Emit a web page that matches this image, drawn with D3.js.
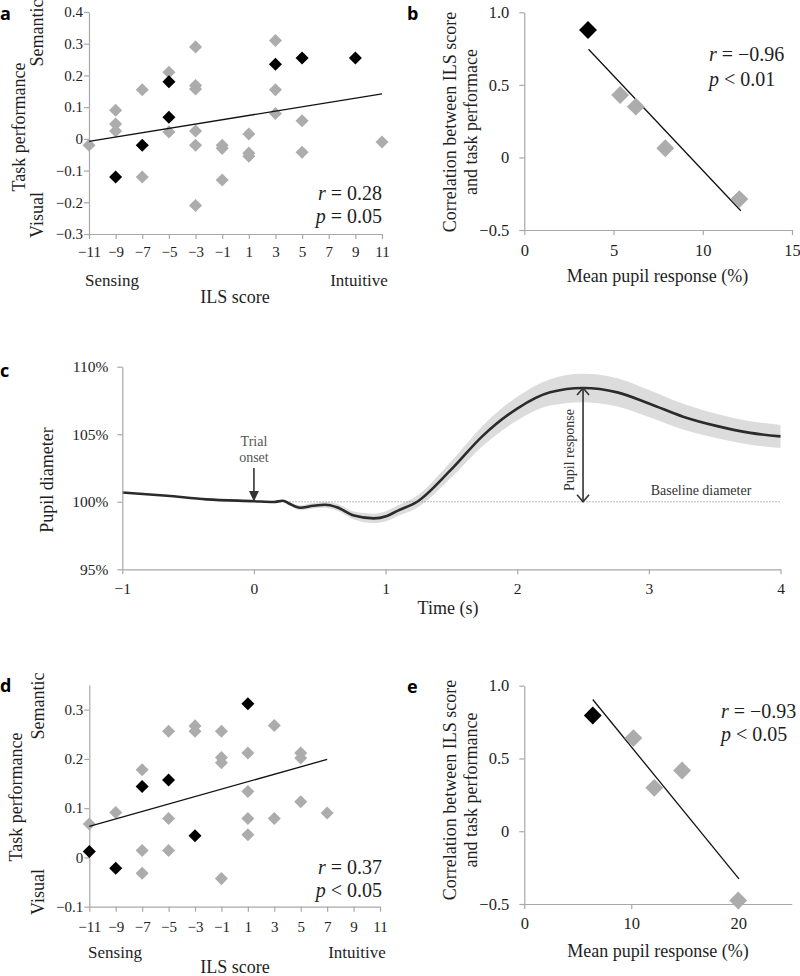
<!DOCTYPE html>
<html><head><meta charset="utf-8">
<script src="https://cdn.jsdelivr.net/npm/d3@7"></script>
<style>body{margin:0;background:#fff}svg{display:block}</style>
</head><body>
<svg id="chart" width="800" height="976"></svg>
<script>
// ---------- DATA ----------
// Panel a (ILS score vs task performance)
const aGrayX = [-11,-9,-9,-9,-7,-7,-5,-5,-3,-3,-3,-3,-3,-3,-1,-1,-1,1,1,1,3,3,3,5,5,11];
const aGrayY = [-0.02,0.09,0.047,0.025,0.155,-0.12,0.21,0.022,0.29,0.168,0.157,0.025,-0.02,-0.21,-0.02,-0.03,-0.13,0.015,-0.045,-0.055,0.31,0.155,0.08,0.057,-0.042,-0.01];
const aBlackX = [-9,-7,-5,-5,3,5,9];
const aBlackY = [-0.12,-0.02,0.18,0.068,0.235,0.255,0.255];
const aFitX = [-11,11];
const aFitY = [-0.008,0.142];
const ilsTicks = [-11,-9,-7,-5,-3,-1,1,3,5,7,9,11];
const aYTicks = [-0.3,-0.2,-0.1,0,0.1,0.2,0.3,0.4];

// Panel b (mean pupil response vs correlation)
const bGrayX = [5.37,6.25,7.9,12.05];
const bGrayY = [0.43,0.35,0.063,-0.287];
const bBlackX = [3.57];
const bBlackY = [0.878];
const bFitX = [3.6,12.13];
const bFitY = [0.745,-0.367];
const bXTicks = [0,5,10,15];
const corrTicks = [-0.5,0,0.5,1.0];

// Panel c (pupil diameter time course)
const cTime = [-1,-0.66,-0.36,0,0.15,0.22,0.27,0.35,0.45,0.54,0.63,0.76,0.91,1.01,1.09,1.24,1.49,1.74,2.0,2.25,2.5,2.76,3.01,3.26,3.52,3.77,4.0];
const cMean = [100.69,100.44,100.18,100.04,99.98,100.08,99.85,99.56,99.70,99.78,99.60,98.98,98.77,98.95,99.33,100.0,102.3,104.9,106.9,108.1,108.42,108.1,107.24,106.3,105.6,105.1,104.84];
const cErr  = [0.02,0.02,0.02,0.03,0.04,0.08,0.12,0.18,0.2,0.22,0.25,0.3,0.35,0.38,0.4,0.45,0.6,0.75,0.88,0.98,1.05,1.05,1.0,0.95,0.9,0.87,0.85];
const cXTicks = [-1,0,1,2,3,4];
const cYTicks = [95,100,105,110];
const cOnset = 0;
const cPeakT = 2.5;
const cPeakV = 108.42;
const cBaseline = 100;

// Panel d
const dGrayX = [-11,-9,-7,-7,-7,-5,-5,-5,-3,-3,-1,-1,-1,-1,1,1,1,1,3,3,5,5,5,7];
const dGrayY = [0.068,0.091,0.178,0.014,-0.032,0.256,0.079,0.014,0.267,0.256,0.256,0.203,0.192,-0.043,0.212,0.134,0.079,0.046,0.268,0.079,0.212,0.202,0.113,0.09];
const dBlackX = [-11,-9,-7,-5,-3,1];
const dBlackY = [0.012,-0.022,0.144,0.157,0.044,0.312];
const dFitX = [-11,7];
const dFitY = [0.063,0.199];
const dYTicks = [-0.1,0,0.1,0.2,0.3];

// Panel e
const eGrayX = [10.2,12.15,14.75,20.0];
const eGrayY = [0.64,0.298,0.417,-0.476];
const eBlackX = [6.4];
const eBlackY = [0.795];
const eFitX = [6.4,20.07];
const eFitY = [0.905,-0.327];
const eXTicks = [0,10,20];

// ---------- DRAWING ----------
const svg = d3.select("#chart");
const SERIF = "'Liberation Serif','Times New Roman',serif";
const SANS = "'Open Sans','DejaVu Sans',sans-serif";
const AXIS = "#a8a8a8", GRAY = "#acacac", TXT = "#1e1e1e";
const fmtY = d => d === 0 ? "0" : d3.format(".1f")(d);

function styleAxis(g, fs) {
  g.select(".domain").attr("stroke", AXIS).attr("stroke-width", 1.2);
  g.selectAll(".tick line").attr("stroke", AXIS).attr("stroke-width", 1.2);
  g.selectAll(".tick text").attr("fill", TXT).style("font-family", SERIF).style("font-size", fs + "px");
}
function xAxis(x, y0, ticks, fs, centerOff, fmt) {
  const g = svg.append("g").attr("transform", `translate(0,${y0})`)
    .call(d3.axisBottom(x).tickValues(ticks).tickSize(5).tickSizeOuter(0)
      .tickPadding(centerOff - 5 - 0.37 * fs).tickFormat(fmt || d3.format("")));
  styleAxis(g, fs);
}
function yAxis(y, x0, ticks, fs, gap, fmt) {
  const g = svg.append("g").attr("transform", `translate(${x0},0)`)
    .call(d3.axisLeft(y).tickValues(ticks).tickSize(5).tickSizeOuter(0)
      .tickPadding(gap - 5).tickFormat(fmt));
  styleAxis(g, fs);
}
function diamonds(x, y, xs, ys, color, area) {
  const sym = d3.symbol(d3.symbolSquare, area);
  svg.append("g").selectAll("path").data(xs.map((v, i) => [v, ys[i]])).join("path")
    .attr("d", sym)
    .attr("transform", d => `translate(${x(d[0])},${y(d[1])}) rotate(45)`)
    .attr("fill", color);
}
function fit(x, y, xs, ys) {
  svg.append("path").datum(xs.map((v, i) => [v, ys[i]]))
    .attr("d", d3.line().x(d => x(d[0])).y(d => y(d[1])))
    .attr("stroke", "#111").attr("stroke-width", 1.3).attr("fill", "none");
}
function text(x, y, s, fs, opts = {}) {
  const t = svg.append("text").attr("x", x).attr("y", y)
    .style("font-family", opts.family || SERIF).style("font-size", fs + "px")
    .attr("fill", opts.fill || TXT).attr("text-anchor", opts.anchor || "middle");
  if (opts.weight) t.style("font-weight", opts.weight);
  if (opts.rotate) t.attr("transform", `rotate(-90,${x},${y})`).attr("dominant-baseline", "central");
  t.text(s);
  return t;
}
function stat(x, y, letter, rest, fs, anchor) {
  const t = svg.append("text").attr("x", x).attr("y", y).attr("text-anchor", anchor)
    .style("font-family", SERIF).style("font-size", fs + "px").attr("fill", TXT);
  t.append("tspan").style("font-style", "italic").text(letter);
  t.append("tspan").text(rest);
}

// ----- Panel a -----
{
  const x = d3.scaleLinear().domain([-11, 11]).range([89, 382]);
  const y = d3.scaleLinear().domain([-0.3, 0.4]).range([234, 12]);
  xAxis(x, 234, ilsTicks, 15, 17.7, d3.format(""));
  yAxis(y, 89, aYTicks, 15, 6, fmtY);
  diamonds(x, y, aGrayX, aGrayY, GRAY, 85);
  diamonds(x, y, aBlackX, aBlackY, "#000", 85);
  fit(x, y, aFitX, aFitY);
  stat(382, 200, "r", " = 0.28", 20, "end");
  stat(382, 223, "p", " = 0.05", 20, "end");
  text(19, 127, "Task performance", 18, { rotate: true });
  text(37, 33, "Semantic", 18, { rotate: true });
  text(37, 215, "Visual", 18, { rotate: true });
  text(112, 286, "Sensing", 17);
  text(359, 286, "Intuitive", 17);
  text(235, 303, "ILS score", 18);
  text(0, 20, "a", 18, { family: SANS, weight: "bold", anchor: "start", fill: "#000" });
}

// ----- Panel b -----
{
  const x = d3.scaleLinear().domain([0, 15]).range([524.3, 792]);
  const y = d3.scaleLinear().domain([-0.5, 1.0]).range([230, 12.3]);
  xAxis(x, 230, bXTicks, 16.5, 20, d3.format(""));
  yAxis(y, 524.3, corrTicks, 16.5, 15, fmtY);
  fit(x, y, bFitX, bFitY);
  diamonds(x, y, bGrayX, bGrayY, GRAY, 160);
  diamonds(x, y, bBlackX, bBlackY, "#000", 160);
  stat(709, 61, "r", " = \u22120.96", 20, "start");
  stat(709, 86, "p", " < 0.01", 20, "start");
  text(450, 122, "Correlation between ILS score", 18, { rotate: true });
  text(471, 122, "and task performace", 18, { rotate: true });
  text(657.5, 282, "Mean pupil response (%)", 18);
  text(407, 20, "b", 18, { family: SANS, weight: "bold", anchor: "start", fill: "#000" });
}

// ----- Panel c -----
{
  const x = d3.scaleLinear().domain([-1, 4]).range([122.3, 780.5]);
  const y = d3.scaleLinear().domain([95, 110]).range([569.3, 366.7]);
  const pts = cTime.map((t, i) => ({ t, m: cMean[i], e: cErr[i] }));
  svg.append("path").datum(pts)
    .attr("d", d3.area().curve(d3.curveMonotoneX).x(d => x(d.t)).y0(d => y(d.m - d.e)).y1(d => y(d.m + d.e)))
    .attr("fill", "#dcdcdc");
  svg.append("line").attr("x1", x(0.2)).attr("x2", x(4)).attr("y1", y(cBaseline)).attr("y2", y(cBaseline))
    .attr("stroke", "#9a9a9a").attr("stroke-width", 0.9).attr("stroke-dasharray", "1.5,1.5");
  svg.append("path").datum(pts)
    .attr("d", d3.line().curve(d3.curveMonotoneX).x(d => x(d.t)).y(d => y(d.m)))
    .attr("fill", "none").attr("stroke", "#2b2b2b").attr("stroke-width", 2.6);
  xAxis(x, 569.3, cXTicks, 15.5, 19.4, d3.format(""));
  yAxis(y, 122.3, cYTicks, 15.5, 14, d => d + "%");
  // trial onset arrow
  const ox = x(cOnset);
  svg.append("line").attr("x1", ox).attr("x2", ox).attr("y1", 468).attr("y2", 494)
    .attr("stroke", "#333").attr("stroke-width", 1.6);
  svg.append("path").attr("d", `M${ox - 5},${491} L${ox + 5},${491} L${ox},${501.5} Z`).attr("fill", "#333");
  text(ox, 446, "Trial", 14, { fill: "#555" });
  text(ox, 462, "onset", 14, { fill: "#555" });
  // pupil response double arrow
  const px = x(cPeakT), pt = y(cPeakV), pb = y(cBaseline);
  svg.append("line").attr("x1", px).attr("x2", px).attr("y1", pt).attr("y2", pb).attr("stroke", "#333").attr("stroke-width", 1.6);
  svg.append("path").attr("d", `M${px - 6},${pt + 7} L${px},${pt} L${px + 6},${pt + 7}`).attr("fill", "none").attr("stroke", "#333").attr("stroke-width", 1.6);
  svg.append("path").attr("d", `M${px - 6},${pb - 7} L${px},${pb} L${px + 6},${pb - 7}`).attr("fill", "none").attr("stroke", "#333").attr("stroke-width", 1.6);
  text(px - 14, 450, "Pupil response", 14, { rotate: true, fill: "#333" });
  text(701, 495, "Baseline diameter", 14, { fill: "#333" });
  text(47, 480, "Pupil diameter", 18, { rotate: true });
  text(448, 614, "Time (s)", 18);
  text(0, 377, "c", 18, { family: SANS, weight: "bold", anchor: "start", fill: "#000" });
}

// ----- Panel d -----
{
  const x = d3.scaleLinear().domain([-11, 11]).range([89.3, 380]);
  const y = d3.scaleLinear().domain([-0.1, 0.35]).range([906.7, 685]);
  xAxis(x, 906.7, ilsTicks, 15, 20, d3.format(""));
  yAxis(y, 89.3, dYTicks, 15, 6, fmtY);
  diamonds(x, y, dGrayX, dGrayY, GRAY, 85);
  diamonds(x, y, dBlackX, dBlackY, "#000", 85);
  fit(x, y, dFitX, dFitY);
  stat(382, 874, "r", " = 0.37", 20, "end");
  stat(382, 896.5, "p", " < 0.05", 20, "end");
  text(16, 797, "Task performance", 18, { rotate: true });
  text(37.5, 706, "Semantic", 18, { rotate: true });
  text(37.5, 892, "Visual", 18, { rotate: true });
  text(115, 958, "Sensing", 17);
  text(357, 958, "Intuitive", 17);
  text(235, 973, "ILS score", 18);
  text(0, 692, "d", 18, { family: SANS, weight: "bold", anchor: "start", fill: "#000" });
}

// ----- Panel e -----
{
  const x = d3.scaleLinear().domain([0, 25]).range([524.3, 791.7]);
  const y = d3.scaleLinear().domain([-0.5, 1.0]).range([904, 685.7]);
  xAxis(x, 904, eXTicks, 16.5, 19.3, d3.format(""));
  yAxis(y, 524.3, corrTicks, 16.5, 15, fmtY);
  fit(x, y, eFitX, eFitY);
  diamonds(x, y, eGrayX, eGrayY, GRAY, 160);
  diamonds(x, y, eBlackX, eBlackY, "#000", 160);
  stat(721, 718, "r", " = \u22120.93", 20, "start");
  stat(721, 741, "p", " < 0.05", 20, "start");
  text(450, 790, "Correlation between ILS score", 18, { rotate: true });
  text(471, 790, "and task performance", 18, { rotate: true });
  text(658, 957, "Mean pupil response (%)", 18);
  text(407, 693, "e", 18, { family: SANS, weight: "bold", anchor: "start", fill: "#000" });
}
</script>
</body></html>
